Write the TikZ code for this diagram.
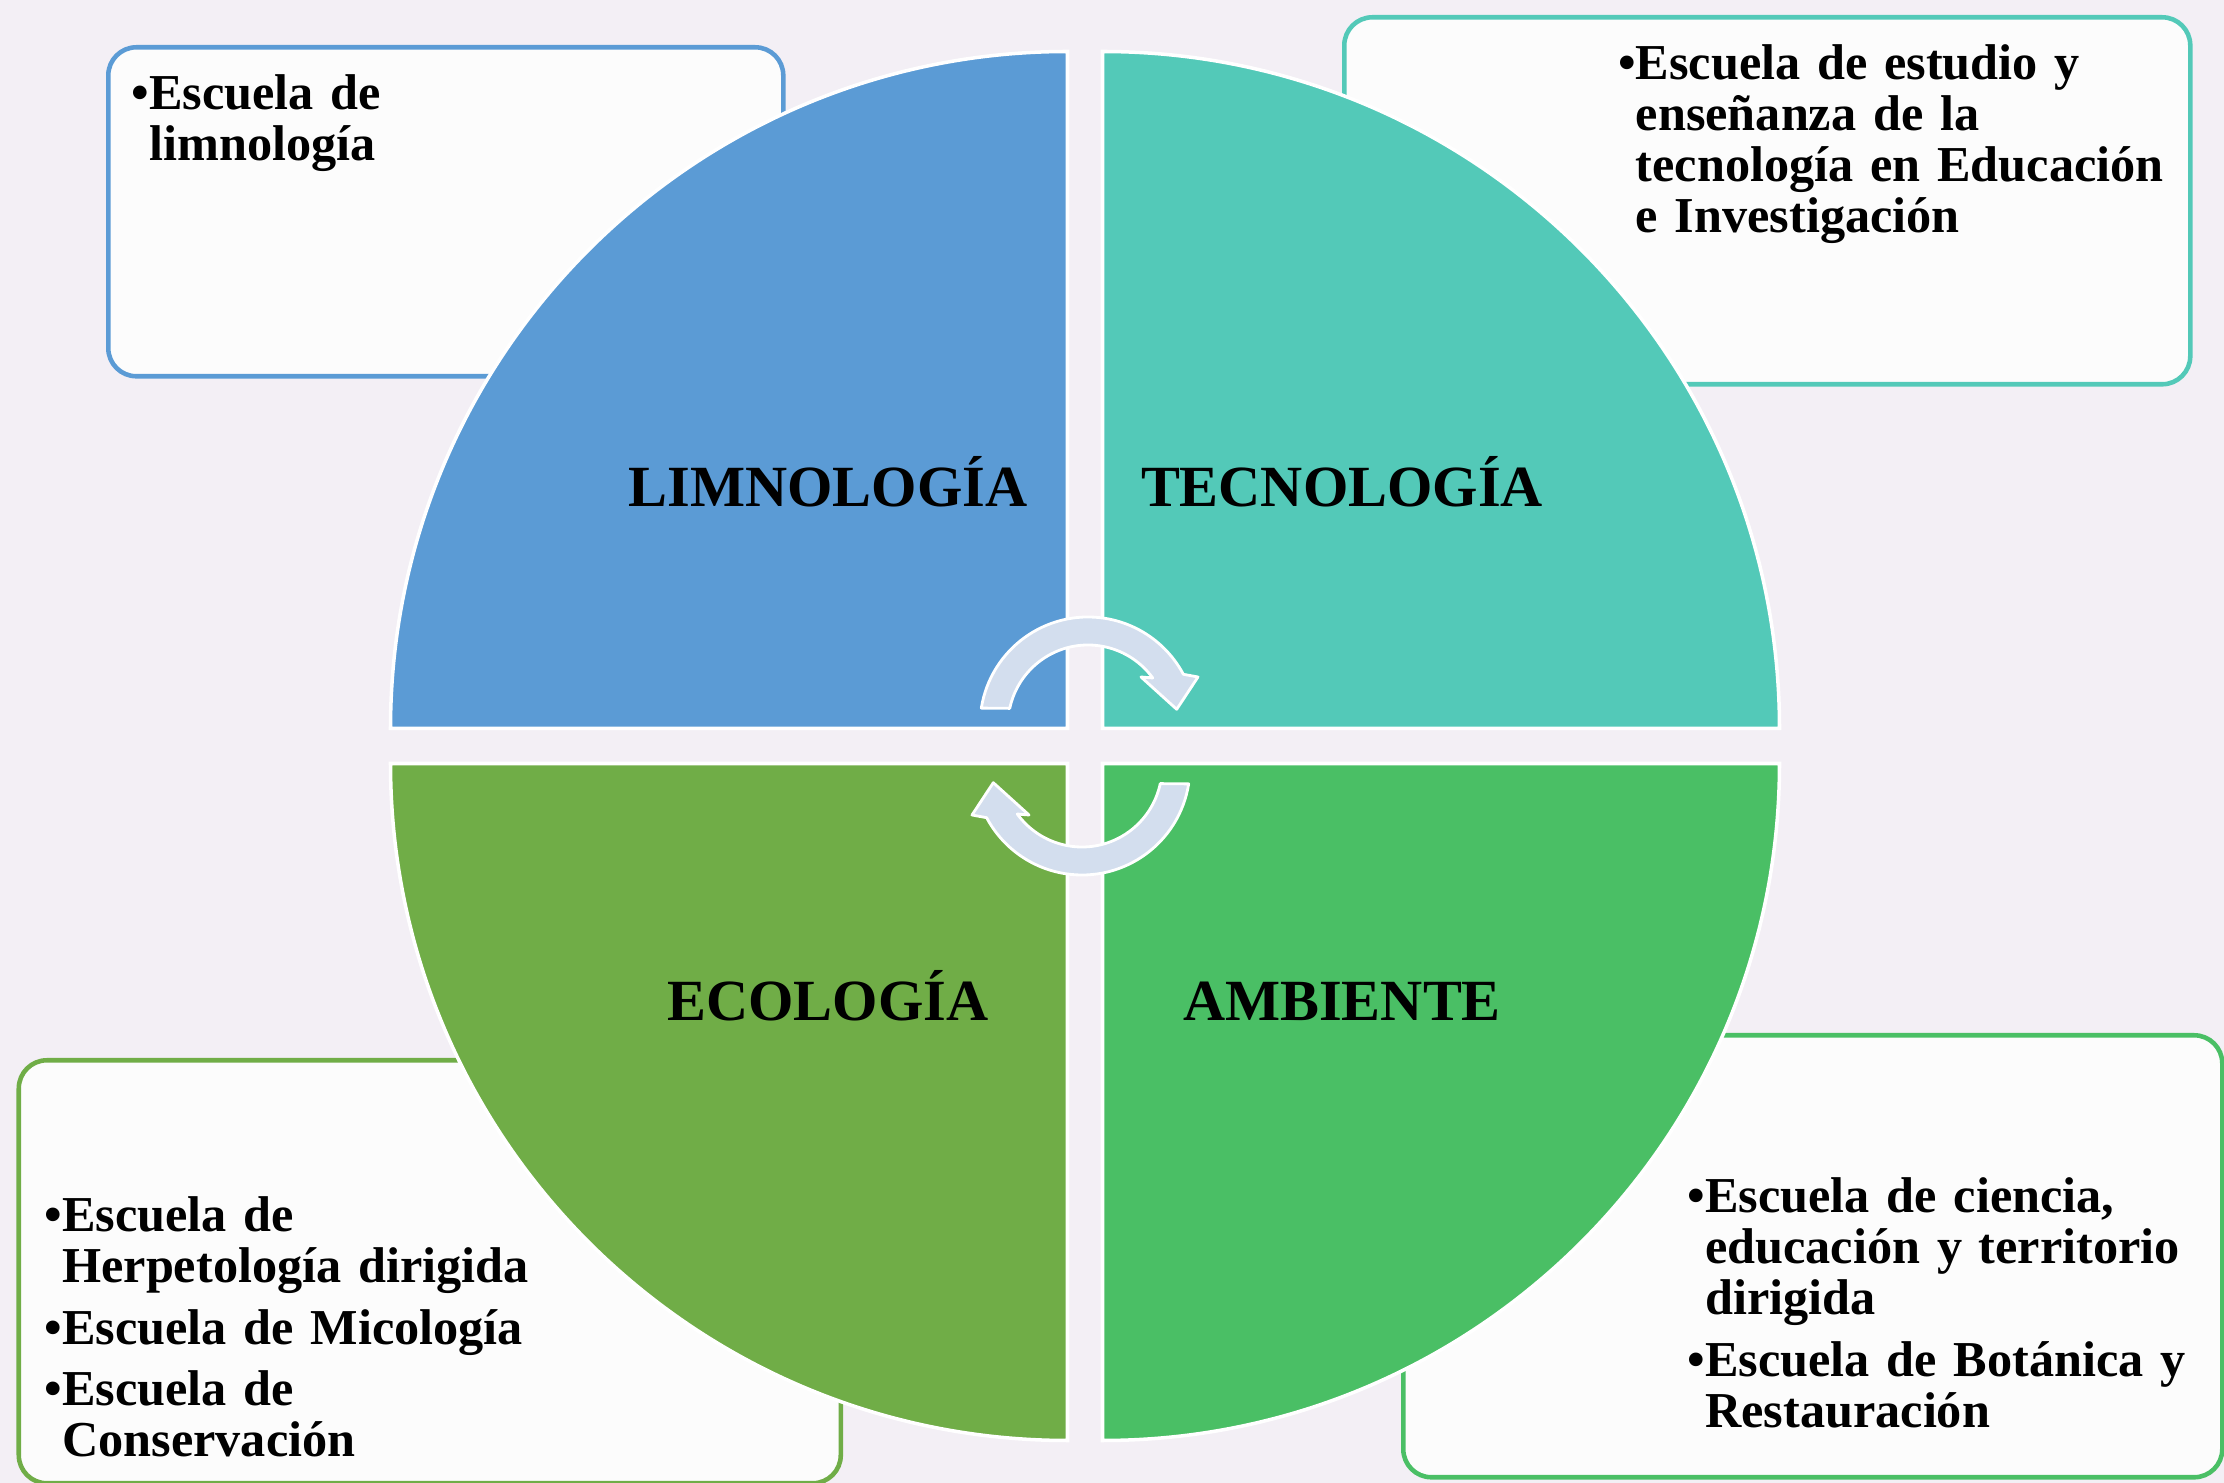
\documentclass[tikz,border=0pt]{standalone}
\usepackage{fontspec}
\setmainfont{Liberation Serif}
\usetikzlibrary{calc,positioning}

\definecolor{bgLav}{RGB}{243,239,245}
\definecolor{boxFill}{RGB}{252,252,252}
\definecolor{limBlue}{RGB}{91,155,213}
\definecolor{tecTeal}{RGB}{83,201,184}
\definecolor{ecoGreen}{RGB}{112,173,71}
\definecolor{ambGreen}{RGB}{74,191,101}
\definecolor{arrowFill}{RGB}{211,222,238}

\tikzset{
  quadrant/.style={draw=white,line width=1pt},
  schoolBox/.style={fill=boxFill,line width=1.3pt,rounded corners=8pt,anchor=north west,inner sep=0pt},
  schoolText/.style={anchor=base west,inner sep=0pt,text width=5.8cm,align=left,
    font=\fontsize{14.3pt}{14.5pt}\selectfont\bfseries},
  areaLabel/.style={anchor=base,inner sep=0pt,font=\fontsize{16.6pt}{18pt}\selectfont\bfseries},
  cycleArrow/.style={fill=arrowFill,draw=white,line width=0.8pt,line join=round},
  pics/turnArrow/.style={code={
    % half ring with a bent head
    \draw[cycleArrow] (171:1.08) arc[start angle=171,end angle=28,radius=1.08]
      -- (1.10,0.48) -- (0.887,0.157) -- (0.53,0.48)
      -- (36:0.80) arc[start angle=36,end angle=168,radius=0.80] -- cycle;
  }},
}

\begin{document}
\begin{tikzpicture}

\useasboundingbox[fill=bgLav] (0,0) rectangle (22.24,14.83);

% centre of the cycle
\coordinate (O) at (10.85,7.37);

% ===== School boxes (behind the circle) =====
\node[schoolBox,draw=limBlue,minimum width=6.75cm,minimum height=3.29cm] (limBox) at (1.06,14.38) {};
\node[schoolBox,draw=tecTeal,minimum width=8.46cm,minimum height=3.67cm] (tecBox) at (13.42,14.68) {};
\node[schoolBox,draw=ecoGreen,minimum width=8.22cm,minimum height=4.23cm] (ecoBox) at (0.165,4.25) {};
\node[schoolBox,draw=ambGreen,minimum width=8.19cm,minimum height=4.42cm] (ambBox) at (14.01,4.50) {};

\node[schoolText] (limText) at ($(limBox.north west)+(0.25,-0.65)$)
  {•Escuela de\\\hphantom{•}limnología};
\node[schoolText] (tecText) at ($(tecBox.north west)+(2.755,-0.65)$)
  {•Escuela de estudio y\\\hphantom{•}enseñanza de la\\\hphantom{•}tecnología en Educación\\\hphantom{•}e Investigación};
\node[schoolText] (ecoText) at ($(ecoBox.north west)+(0.275,-1.74)$)
  {•Escuela de\\\hphantom{•}Herpetología dirigida\\[3pt]•Escuela de Micología\\[3pt]•Escuela de\\\hphantom{•}Conservación};
\node[schoolText] (ambText) at ($(ambBox.north west)+(2.86,-1.80)$)
  {•Escuela de ciencia,\\\hphantom{•}educación y territorio\\\hphantom{•}dirigida\\[3pt]•Escuela de Botánica y\\\hphantom{•}Restauración};

% ===== Four quadrants =====
\draw[quadrant,fill=limBlue] ($(O)+(-0.175,0.175)$) -- ++(-6.77,0) arc[start angle=180,end angle=90,radius=6.77] -- cycle;
\draw[quadrant,fill=tecTeal] ($(O)+(0.175,0.175)$) -- ++(6.77,0) arc[start angle=0,end angle=90,radius=6.77] -- cycle;
\draw[quadrant,fill=ecoGreen] ($(O)+(-0.175,-0.175)$) -- ++(-6.77,0) arc[start angle=180,end angle=270,radius=6.77] -- cycle;
\draw[quadrant,fill=ambGreen] ($(O)+(0.175,-0.175)$) -- ++(6.77,0) arc[start angle=0,end angle=-90,radius=6.77] -- cycle;

\node[areaLabel] (limLabel) at ($(O)+(-2.57,2.39)$) {LIMNOLOGÍA};
\node[areaLabel] (tecLabel) at ($(O)+(2.57,2.39)$) {TECNOLOGÍA};
\node[areaLabel] (ecoLabel) at ($(O)+(-2.57,-2.75)$) {ECOLOGÍA};
\node[areaLabel] (ambLabel) at ($(O)+(2.57,-2.75)$) {AMBIENTE};

% ===== Cycle arrows =====
\pic at ($(O)+(0.03,0.21)$) {turnArrow};
\pic[rotate=180] at ($(O)+(-0.03,-0.21)$) {turnArrow};

\end{tikzpicture}
\end{document}
